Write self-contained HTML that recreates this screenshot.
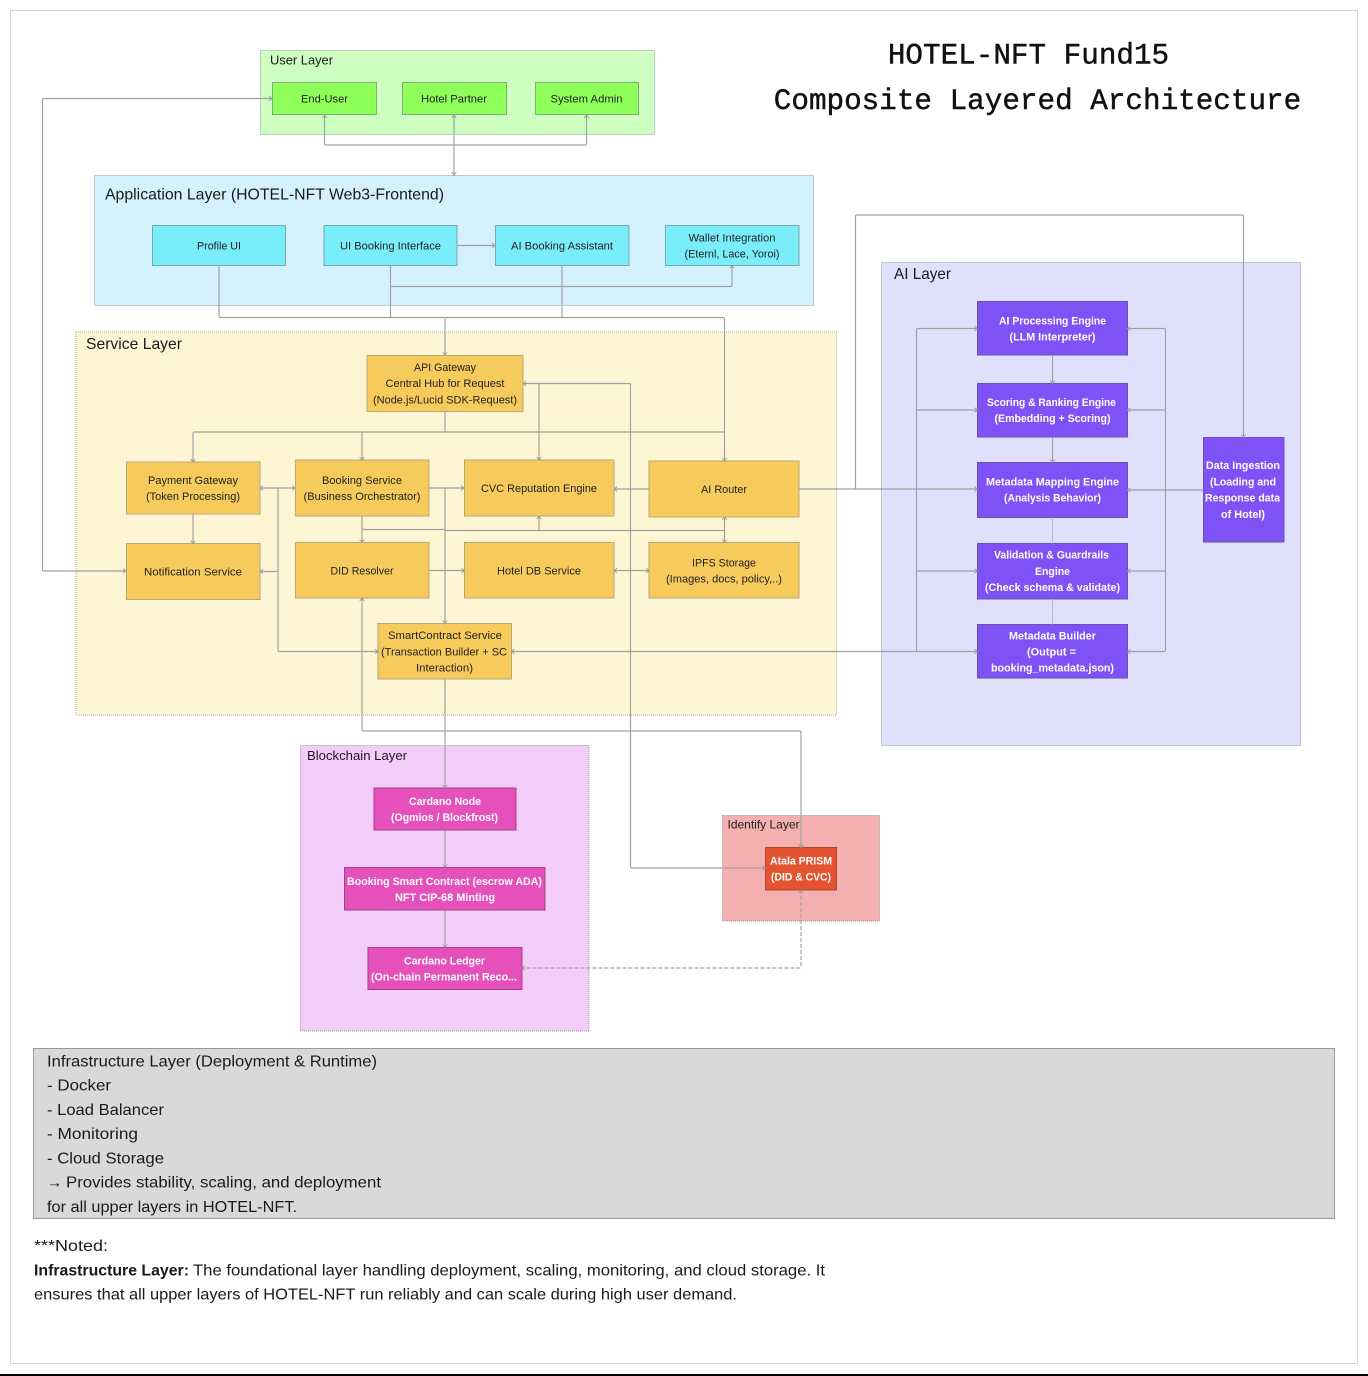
<!DOCTYPE html>
<html>
<head>
<meta charset="utf-8">
<style>
html,body{margin:0;padding:0;background:#fff;width:1368px;height:1376px;overflow:hidden}
svg{display:block;position:absolute;left:0;top:0;filter:blur(0.3px)}
text{font-family:"Liberation Sans",sans-serif;fill:#1a1a1a}
.n{font-size:11px;text-anchor:middle;fill:#222}
.w{font-size:11px;text-anchor:middle;fill:#fff;font-weight:700}
.l{font-size:16px;fill:#1a1a1a}
.s{font-size:13px;fill:#1a1a1a}
.b{font-size:16px;fill:#1a1a1a}
.t{font-family:"Liberation Mono",monospace;font-size:29.3px;text-anchor:middle;fill:#111;stroke:#111;stroke-width:.45px}
.c path{fill:none;stroke:#a0a0a0;stroke-width:1.15}
.ly{stroke-width:1;stroke-dasharray:1 1}
</style>
</head>
<body>
<svg width="1368" height="1376" viewBox="0 0 1368 1376" xmlns="http://www.w3.org/2000/svg">
<defs>
<marker id="a" viewBox="0 0 8 8" refX="7" refY="4" markerWidth="6" markerHeight="6" markerUnits="userSpaceOnUse" orient="auto-start-reverse">
<path d="M3 1 L7 4 L3 7" fill="none" stroke="#999" stroke-width="1.2"/>
</marker>
</defs>
<rect x="0" y="0" width="1368" height="1376" fill="#fff"/>
<rect x="10.5" y="10.5" width="1347" height="1353" fill="#fff" stroke="#d4d4d4"/>
<rect x="0" y="1374" width="1368" height="2" fill="#000"/>

<!-- Layers -->
<rect class="ly" x="260.5" y="50.5" width="394" height="84" fill="#CCFFC0" stroke="#999"/>
<rect class="ly" x="94.5" y="175.5" width="719" height="130" fill="#D4F2FD" stroke="#999"/>
<rect class="ly" x="76" y="332" width="760.5" height="383" fill="#FDF5D3" stroke="#aaa"/>
<rect class="ly" x="881.5" y="262.5" width="419" height="483" fill="#E0E0FC" stroke="#999"/>
<rect class="ly" x="300.5" y="745.5" width="288.5" height="285.5" fill="#F3CCF9" stroke="#999"/>
<rect class="ly" x="722.5" y="815.5" width="157" height="105.5" fill="#F4B0B0" stroke="#999"/>
<rect x="33.5" y="1048.5" width="1301" height="170" fill="#D9D9D9" stroke="#999"/>

<!-- Layer labels -->
<text class="s" x="270" y="64.5" textLength="63" lengthAdjust="spacingAndGlyphs">User Layer</text>
<text class="l" x="105" y="199.5" textLength="339" lengthAdjust="spacingAndGlyphs">Application Layer (HOTEL-NFT Web3-Frontend)</text>
<text class="l" x="86" y="349" textLength="96" lengthAdjust="spacingAndGlyphs">Service Layer</text>
<text class="l" x="894" y="279" textLength="57" lengthAdjust="spacingAndGlyphs">AI Layer</text>
<text class="s" x="307" y="760" textLength="100" lengthAdjust="spacingAndGlyphs">Blockchain Layer</text>
<text class="n" style="font-size:12px;text-anchor:start" x="727.5" y="828.5" textLength="72" lengthAdjust="spacingAndGlyphs">Identify Layer</text>

<!-- Title -->
<text class="t" x="1028.5" y="63.500">HOTEL-NFT Fund15</text>
<text class="t" x="1037.5" y="109">Composite Layered Architecture</text>

<!-- Nodes -->
<g fill="#8FFF5A" stroke="#85a97c">
<rect x="272.5" y="82.5" width="104" height="32"/>
<rect x="402.5" y="82.5" width="104" height="32"/>
<rect x="535.5" y="82.5" width="103" height="32"/>
</g>
<g fill="#7AEDFB" stroke="#7aa7b0">
<rect x="152.5" y="225.5" width="133" height="40"/>
<rect x="324" y="225.5" width="133" height="40"/>
<rect x="495.5" y="225.5" width="133.5" height="40"/>
<rect x="665.5" y="225.5" width="133.5" height="40"/>
</g>
<g fill="#F6CB5C" stroke="#b8a878">
<rect x="367" y="355.5" width="156" height="56"/>
<rect x="126.5" y="462" width="133.5" height="52"/>
<rect x="295.5" y="460" width="133.5" height="56"/>
<rect x="464.5" y="460" width="149.5" height="56"/>
<rect x="649" y="461" width="150" height="56"/>
<rect x="126.5" y="543.5" width="133.5" height="56"/>
<rect x="295.5" y="542.5" width="133.5" height="55.5"/>
<rect x="464.5" y="542.5" width="149.5" height="55.5"/>
<rect x="649" y="542.5" width="150" height="55.5"/>
<rect x="378" y="623.5" width="133.5" height="55.5"/>
</g>
<g fill="#7F52F5" stroke="#6a51b5">
<rect x="977.5" y="301.5" width="150" height="53.5"/>
<rect x="977.5" y="383.5" width="150" height="53.5"/>
<rect x="977.5" y="462.5" width="150" height="55"/>
<rect x="977.5" y="543.5" width="150" height="55.5"/>
<rect x="977.5" y="624.5" width="150" height="53.5"/>
<rect x="1203.5" y="437.5" width="80.5" height="104.5"/>
</g>
<g fill="#E650BA" stroke="#a33f8a">
<rect x="374" y="788" width="142" height="42"/>
<rect x="344.5" y="867.5" width="200.5" height="42.5"/>
<rect x="368" y="947.5" width="154" height="42"/>
</g>
<rect x="765.5" y="847.5" width="71" height="42.5" fill="#E55431" stroke="#a8482f"/>

<!-- Connectors -->
<g class="c">
<path d="M272 98.5H44Q42.500 98.500 42.500 100V569.500Q42.500 571 44 571H126" marker-end="url(#a)" marker-start="url(#a)"/>
<path d="M324.500 115V143.500Q324.500 145 326 145H585Q586.500 145 586.500 143.500V115" marker-start="url(#a)" marker-end="url(#a)"/>
<path d="M454 115V175" marker-start="url(#a)" marker-end="url(#a)"/>
<path d="M457 245.500H495" marker-end="url(#a)"/>
<path d="M219 265.500V316Q219 317.500 220.500 317.500H722.500Q724.500 317.500 724.500 319V461" marker-end="url(#a)"/>
<path d="M390.500 265.500V317.500"/>
<path d="M562 265.500V317.500"/>
<path d="M445 317.500V355" marker-end="url(#a)"/>
<path d="M390.500 286.500H730.500Q732 286.500 732 285V265.500" marker-end="url(#a)"/>
<path d="M445 411.500V432"/>
<path d="M193 462V433.500Q193 432 194.500 432H724.500" marker-start="url(#a)"/>
<path d="M362 432V460" marker-end="url(#a)"/>
<path d="M539 383.500V460" marker-end="url(#a)"/>
<path d="M523 383.500H629Q630.500 383.500 630.500 385V866.500Q630.500 868 632 868H765.500" marker-start="url(#a)" marker-end="url(#a)"/>
<path d="M193 514V543.500" marker-end="url(#a)"/>
<path d="M260 488H295" marker-start="url(#a)" marker-end="url(#a)"/>
<path d="M278 488V650Q278 651.500 279.500 651.500H378" marker-end="url(#a)"/>
<path d="M278 571.500H260" marker-end="url(#a)"/>
<path d="M429 488H464" marker-end="url(#a)"/>
<path d="M445 488V623.500" marker-end="url(#a)"/>
<path d="M362 516V542.500" marker-end="url(#a)"/>
<path d="M362 529.500H445"/>
<path d="M445 530.500H724.500"/>
<path d="M724.500 517V542.500" marker-start="url(#a)" marker-end="url(#a)"/>
<path d="M539 530.500V516" marker-end="url(#a)"/>
<path d="M429 570.500H464.500" marker-end="url(#a)"/>
<path d="M614 570.500H649" marker-start="url(#a)" marker-end="url(#a)"/>
<path d="M649 489H614" marker-end="url(#a)"/>
<path d="M799 489H977.500" marker-end="url(#a)"/>
<path d="M855.500 489V216.500Q855.500 215 857 215H1242Q1243.500 215 1243.500 216.500V437.500" marker-end="url(#a)"/>
<path d="M511.500 651.500H977.500" marker-start="url(#a)" marker-end="url(#a)"/>
<path d="M977.500 328.500H918Q916.500 328.500 916.500 330V651.500" marker-start="url(#a)"/>
<path d="M916.500 410H977.500" marker-end="url(#a)"/>
<path d="M916.500 571H977.500" marker-end="url(#a)"/>
<path d="M1127.500 328.500H1164Q1165.500 328.500 1165.500 330V650Q1165.500 651.500 1164 651.500H1127.500" marker-start="url(#a)" marker-end="url(#a)"/>
<path d="M1165.500 410H1127.500" marker-end="url(#a)"/>
<path d="M1165.500 571H1127.500" marker-end="url(#a)"/>
<path d="M1203.500 490H1127.500" marker-end="url(#a)"/>
<path d="M1052.500 355V383.500" marker-end="url(#a)"/>
<path d="M1052.500 437V462.500" marker-end="url(#a)"/>
<path d="M1052.500 517.500V543.500" style="stroke:#bdbdc9"/>
<path d="M1052.500 599V624.500" style="stroke:#bdbdc9"/>
<path d="M445 679V788" marker-end="url(#a)"/>
<path d="M362 598V729.500Q362 731 363.500 731H799.500Q801 731 801 732.500V847.500" marker-start="url(#a)" marker-end="url(#a)"/>
<path d="M445 830V867.500" marker-end="url(#a)"/>
<path d="M445 910V947.500" marker-end="url(#a)"/>
<path d="M801 890V966.500Q801 968 799.500 968H522" stroke-dasharray="4 2" marker-start="url(#a)" marker-end="url(#a)"/>
</g>

<!-- Node text -->
<text class="n" x="324.500" y="102.500" textLength="47" lengthAdjust="spacingAndGlyphs">End-User</text>
<text class="n" x="454" y="102.500" textLength="66" lengthAdjust="spacingAndGlyphs">Hotel Partner</text>
<text class="n" x="586.500" y="102.500" textLength="72" lengthAdjust="spacingAndGlyphs">System Admin</text>
<text class="n" x="219" y="249.500" textLength="44" lengthAdjust="spacingAndGlyphs">Profile UI</text>
<text class="n" x="390.500" y="249.500" textLength="101" lengthAdjust="spacingAndGlyphs">UI Booking Interface</text>
<text class="n" x="562" y="249.500" textLength="102" lengthAdjust="spacingAndGlyphs">AI Booking Assistant</text>
<text class="n" x="732" y="241.500" textLength="87" lengthAdjust="spacingAndGlyphs">Wallet Integration</text>
<text class="n" x="732" y="257.500" textLength="95" lengthAdjust="spacingAndGlyphs">(Eternl, Lace, Yoroi)</text>
<text class="n" x="445" y="371" textLength="62" lengthAdjust="spacingAndGlyphs">API Gateway</text>
<text class="n" x="445" y="387" textLength="119" lengthAdjust="spacingAndGlyphs">Central Hub for Request</text>
<text class="n" x="445" y="403.500" textLength="144" lengthAdjust="spacingAndGlyphs">(Node.js/Lucid SDK-Request)</text>
<text class="n" x="193" y="484" textLength="90" lengthAdjust="spacingAndGlyphs">Payment Gateway</text>
<text class="n" x="193" y="500" textLength="94" lengthAdjust="spacingAndGlyphs">(Token Processing)</text>
<text class="n" x="362" y="484" textLength="80" lengthAdjust="spacingAndGlyphs">Booking Service</text>
<text class="n" x="362" y="500" textLength="117" lengthAdjust="spacingAndGlyphs">(Business Orchestrator)</text>
<text class="n" x="539" y="492" textLength="116" lengthAdjust="spacingAndGlyphs">CVC Reputation Engine</text>
<text class="n" x="724" y="493" textLength="46" lengthAdjust="spacingAndGlyphs">AI Router</text>
<text class="n" x="193" y="575.500" textLength="98" lengthAdjust="spacingAndGlyphs">Notification Service</text>
<text class="n" x="362" y="574.500" textLength="63" lengthAdjust="spacingAndGlyphs">DID Resolver</text>
<text class="n" x="539" y="574.500" textLength="84" lengthAdjust="spacingAndGlyphs">Hotel DB Service</text>
<text class="n" x="724" y="566.500" textLength="64" lengthAdjust="spacingAndGlyphs">IPFS Storage</text>
<text class="n" x="724" y="582.500" textLength="116" lengthAdjust="spacingAndGlyphs">(Images, docs, policy,..)</text>
<text class="n" x="445" y="639" textLength="114" lengthAdjust="spacingAndGlyphs">SmartContract Service</text>
<text class="n" x="444" y="655.500" textLength="126" lengthAdjust="spacingAndGlyphs">(Transaction Builder + SC</text>
<text class="n" x="444.500" y="671.500" textLength="57" lengthAdjust="spacingAndGlyphs">Interaction)</text>

<text class="w" x="1052.500" y="324.500" textLength="107" lengthAdjust="spacingAndGlyphs">AI Processing Engine</text>
<text class="w" x="1052.500" y="340.500" textLength="86" lengthAdjust="spacingAndGlyphs">(LLM Interpreter)</text>
<text class="w" x="1051.500" y="406" textLength="129" lengthAdjust="spacingAndGlyphs">Scoring &amp; Ranking Engine</text>
<text class="w" x="1052.500" y="422" textLength="116" lengthAdjust="spacingAndGlyphs">(Embedding + Scoring)</text>
<text class="w" x="1052.500" y="485.500" textLength="133" lengthAdjust="spacingAndGlyphs">Metadata Mapping Engine</text>
<text class="w" x="1052.500" y="501.500" textLength="97" lengthAdjust="spacingAndGlyphs">(Analysis Behavior)</text>
<text class="w" x="1051.500" y="558.500" textLength="115" lengthAdjust="spacingAndGlyphs">Validation &amp; Guardrails</text>
<text class="w" x="1052.500" y="575" textLength="35" lengthAdjust="spacingAndGlyphs">Engine</text>
<text class="w" x="1052.500" y="591" textLength="135" lengthAdjust="spacingAndGlyphs">(Check schema &amp; validate)</text>
<text class="w" x="1052.500" y="639.500" textLength="87" lengthAdjust="spacingAndGlyphs">Metadata Builder</text>
<text class="w" x="1051.500" y="655.500" textLength="49" lengthAdjust="spacingAndGlyphs">(Output =</text>
<text class="w" x="1052.500" y="671.500" textLength="123" lengthAdjust="spacingAndGlyphs">booking_metadata.json)</text>
<text class="w" x="1243" y="469" textLength="74" lengthAdjust="spacingAndGlyphs">Data Ingestion</text>
<text class="w" x="1243" y="485.500" textLength="66" lengthAdjust="spacingAndGlyphs">(Loading and</text>
<text class="w" x="1242.500" y="501.500" textLength="75" lengthAdjust="spacingAndGlyphs">Response data</text>
<text class="w" x="1243" y="518" textLength="44" lengthAdjust="spacingAndGlyphs">of Hotel)</text>

<text class="w" x="445" y="805" textLength="72" lengthAdjust="spacingAndGlyphs">Cardano Node</text>
<text class="w" x="444.500" y="821" textLength="107" lengthAdjust="spacingAndGlyphs">(Ogmios / Blockfrost)</text>
<text class="w" x="444.500" y="885" textLength="195" lengthAdjust="spacingAndGlyphs">Booking Smart Contract (escrow ADA)</text>
<text class="w" x="445" y="901" textLength="100" lengthAdjust="spacingAndGlyphs">NFT CIP-68 Minting</text>
<text class="w" x="444.500" y="964.500" textLength="81" lengthAdjust="spacingAndGlyphs">Cardano Ledger</text>
<text class="w" x="444" y="980.500" textLength="146" lengthAdjust="spacingAndGlyphs">(On-chain Permanent Reco...</text>
<text class="w" x="801" y="864.500" textLength="62" lengthAdjust="spacingAndGlyphs">Atala PRISM</text>
<text class="w" x="801" y="880.500" textLength="60" lengthAdjust="spacingAndGlyphs">(DID &amp; CVC)</text>

<!-- Infrastructure -->
<text class="b" x="47" y="1066.500" textLength="330" lengthAdjust="spacingAndGlyphs">Infrastructure Layer (Deployment &amp; Runtime)</text>
<text class="b" x="47" y="1090.500" textLength="64" lengthAdjust="spacingAndGlyphs">- Docker</text>
<text class="b" x="47" y="1115" textLength="117" lengthAdjust="spacingAndGlyphs">- Load Balancer</text>
<text class="b" x="47" y="1139" textLength="91" lengthAdjust="spacingAndGlyphs">- Monitoring</text>
<text class="b" x="47" y="1163.500" textLength="117" lengthAdjust="spacingAndGlyphs">- Cloud Storage</text>
<text class="b" x="47" y="1187.500" textLength="15" lengthAdjust="spacingAndGlyphs">→</text>
<text class="b" x="66" y="1187.500" textLength="315" lengthAdjust="spacingAndGlyphs">Provides stability, scaling, and deployment</text>
<text class="b" x="47" y="1212" textLength="250" lengthAdjust="spacingAndGlyphs">for all upper layers in HOTEL-NFT.</text>

<!-- Notes -->
<text class="b" x="34" y="1251" textLength="74" lengthAdjust="spacingAndGlyphs">***Noted:</text>
<text class="b" style="font-weight:700" x="34" y="1275.500" textLength="155" lengthAdjust="spacingAndGlyphs">Infrastructure Layer:</text>
<text class="b" x="193" y="1275.500" textLength="632" lengthAdjust="spacingAndGlyphs">The foundational layer handling deployment, scaling, monitoring, and cloud storage. It</text>
<text class="b" x="34" y="1299.500" textLength="703" lengthAdjust="spacingAndGlyphs">ensures that all upper layers of HOTEL-NFT run reliably and can scale during high user demand.</text>
</svg>
</body>
</html>
